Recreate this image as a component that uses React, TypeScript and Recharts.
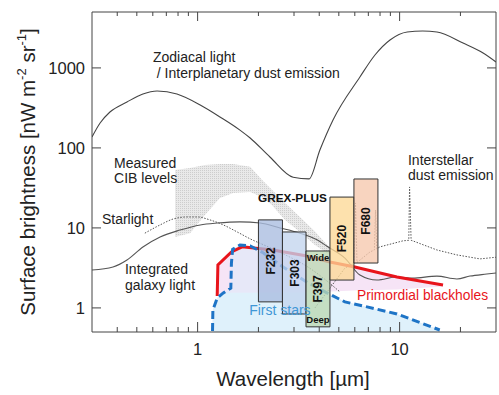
import React from "react";
import {
  ComposedChart,
  Line,
  Area,
  XAxis,
  YAxis,
  ReferenceArea,
  ReferenceDot,
} from "recharts";

const FONT = "'Liberation Sans', Arial, sans-serif";

// wavelength [um] vs surface brightness [nW m^-2 sr^-1]
const zodiLam = [0.3, 0.329, 0.368, 0.447, 0.536, 0.63, 0.79, 1.03, 1.29, 1.62, 1.82, 2.28, 2.97, 3.56, 4.03, 4.68, 6.36, 7.55, 8.96, 10.9, 13.0, 15.3, 20.6, 25.9, 30];
const zodiVal = [137, 205, 281, 375, 472, 514, 472, 344, 244, 167, 133, 77, 43, 41, 94, 223, 770, 1450, 2233, 2812, 2893, 2812, 2048, 1536, 1186];

const iglLam = [0.3, 0.381, 0.447, 0.536, 0.652, 0.818, 1.03, 1.25, 1.62, 2.04, 2.56, 3.21, 3.9, 4.37, 5.36, 6.36, 7.72, 9.7, 11.6, 15.3, 19.2, 22.3, 27, 30];
const iglVal = [2.98, 3.25, 3.97, 5.77, 7.7, 9.4, 10.9, 11.5, 11.9, 11.5, 10, 8.6, 7.1, 5.9, 4.2, 2.58, 2.23, 2.43, 2.36, 2.5, 2.3, 2.5, 2.65, 2.73];

const starLam = [0.548, 0.652, 0.755, 0.885, 1.0, 1.15, 1.34, 1.57, 1.82, 2.2, 2.77, 3.48, 4.18, 5.07];
const starVal = [8.6, 10.9, 12.9, 13.7, 13.7, 12.6, 10.9, 8.9, 7.3, 5.9, 4.5, 3.3, 2.37, 1.58];

const dustLam = [3.81, 4.52, 5.36, 5.95, 6.05, 6.15, 7.13, 7.5, 7.6, 7.7, 8.0, 10.4, 11.1, 11.2, 11.4, 11.6, 15.3, 19.2, 25, 30];
const dustVal = [1.0, 1.77, 3.15, 3.6, 20.5, 3.7, 5.0, 5.3, 16.7, 5.5, 5.8, 6.9, 7.0, 32.5, 7.0, 6.9, 5.3, 4.6, 4.1, 4.3];

const cibLam = [0.773, 0.917, 1.087, 1.29, 1.5, 1.82, 2.08, 2.33, 2.71, 3.21, 3.81, 4.52];
const cibHigh = [53, 56, 61, 63, 63, 58, 40, 30, 20.5, 13.7, 9.0, 5.6];
const cibLow = [7.7, 8.6, 14.5, 23.7, 27.3, 28.1, 24.3, 19.3, 12.6, 8.9, 6.1, 4.6];

const fsLam = [1.185, 1.19, 1.25, 1.34, 1.46, 1.47, 1.49, 1.62, 1.82, 2.11, 2.65, 3.4, 4.37, 5.36, 6.9, 9.7, 15.8];
const fsVal = [0.514, 0.94, 1.33, 1.54, 1.77, 3.64, 5.4, 6.1, 5.96, 4.9, 3.25, 2.17, 1.54, 1.19, 1.03, 0.84, 0.53];
const fsCyan = [0.514, 0.94, 1.33, 1.54, 1.55, 1.55, 1.55, 1.55, 1.55, 1.55, 1.55, 1.55, 1.54, 1.19, 1.03, 0.84, 0.53];

const pbhLam = [1.25, 1.26, 1.47, 1.66, 2.36, 3.48, 4.52, 6.0, 9.7, 16.4];
const pbhVal = [1.41, 3.44, 5.0, 5.8, 5.3, 4.46, 3.75, 3.25, 2.43, 1.93];
const pbhLow = [1.41, 1.45, 1.55, 1.6, 1.6, 1.6, 1.6, 1.65, 1.7, 1.85];

const bandNames = ["F232", "F303", "F397", "F520", "F680"];
const bandLo = [2.0, 2.63, 3.44, 4.52, 5.94];
const bandHi = [2.63, 3.44, 4.52, 5.94, 7.81];
const bandMin = [1.19, 0.84, 0.58, 2.23, 3.64];
const bandMax = [12.6, 8.9, 5.15, 24.3, 40.9];
const bandColors = ["#a9bce0", "#c3d5ee", "#bcd9b4", "#fcd996", "#f6c8ad"];

const xTicks = [0.4, 0.5, 0.6, 0.7, 0.8, 0.9, 1, 2, 3, 4, 5, 6, 7, 8, 9, 10, 20];
const yTicks = [1, 10, 100, 1000];

const notes = [
  { x: 0.601, y: 1186, lines: ["Zodiacal light", " / Interplanetary dust emission"], color: "#222", size: 14, gap: 16 },
  { x: 0.386, y: 56.1, lines: ["Measured", "CIB levels"], color: "#222", size: 14, gap: 15 },
  { x: 0.336, y: 11.2, lines: ["Starlight"], color: "#222", size: 14, gap: 15 },
  { x: 0.437, y: 2.65, lines: ["Integrated", "galaxy light"], color: "#222", size: 14, gap: 16 },
  { x: 11.0, y: 61.1, lines: ["Interstellar", "dust emission"], color: "#222", size: 14, gap: 15 },
  { x: 1.99, y: 21.1, lines: ["GREX-PLUS"], color: "#111", size: 11.8, gap: 0, bold: true },
  { x: 1.8, y: 0.816, lines: ["First stars"], color: "#3f97d6", size: 14, gap: 0 },
  { x: 6.15, y: 1.256, lines: ["Primordial blackholes"], color: "#e8141b", size: 13.8, gap: 0 },
];

const pts = (xs: number[], ys: number[]) => xs.map((x, i) => ({ x, y: ys[i] }));
const rng = (xs: number[], lo: number[], hi: number[]) => xs.map((x, i) => ({ x, r: [lo[i], hi[i]] }));

const AX = "#444";

const BottomTick = (props: any) => {
  const { x, y, payload } = props;
  const major = payload.value === 1 || payload.value === 10;
  return (
    <g>
      <line x1={x} y1={y} x2={x} y2={y - (major ? 10 : 5)} stroke={AX} />
      {major && (
        <text x={x} y={y + 23} textAnchor="middle" fontSize={16.5} fontFamily={FONT} fill="#222">
          {payload.value}
        </text>
      )}
    </g>
  );
};

const TopTick = (props: any) => {
  const { x, y, payload } = props;
  const major = payload.value === 1 || payload.value === 10;
  return <line x1={x} y1={y} x2={x} y2={y + (major ? 9 : 4)} stroke={AX} />;
};

const LeftTick = (props: any) => {
  const { x, y, payload } = props;
  return (
    <g>
      <line x1={x} y1={y} x2={x + 9} y2={y} stroke={AX} />
      <text x={x - 7} y={y + 6} textAnchor="end" fontSize={16.5} fontFamily={FONT} fill="#222">
        {payload.value}
      </text>
    </g>
  );
};

const RightTick = (props: any) => {
  const { x, y } = props;
  return <line x1={x} y1={y} x2={x - 9} y2={y} stroke={AX} />;
};

const BandLabel = (props: any) => {
  const { viewBox, name } = props;
  if (!viewBox) return null;
  const cx = viewBox.x + viewBox.width / 2;
  const cy = viewBox.y + viewBox.height / 2;
  return (
    <g>
      <text
        x={cx}
        y={cy}
        transform={`rotate(-90, ${cx}, ${cy})`}
        textAnchor="middle"
        dy={4.3}
        fontSize={12}
        fontWeight="bold"
        fontFamily={FONT}
        fill="#111"
      >
        {name}
      </text>
      {name === "F397" && (
        <>
          <text x={cx} y={viewBox.y + 10} textAnchor="middle" fontSize={9.5} fontWeight="bold" fontFamily={FONT} fill="#111">
            Wide
          </text>
          <text x={cx} y={viewBox.y + viewBox.height - 4} textAnchor="middle" fontSize={9.5} fontWeight="bold" fontFamily={FONT} fill="#111">
            Deep
          </text>
        </>
      )}
    </g>
  );
};

const NoteLabel = (props: any) => {
  const { viewBox, note } = props;
  if (!viewBox) return null;
  return (
    <text
      x={viewBox.x}
      y={viewBox.y}
      fontSize={note.size}
      fontWeight={note.bold ? "bold" : "normal"}
      fontFamily={FONT}
      fill={note.color}
    >
      {note.lines.map((l: string, i: number) => (
        <tspan key={i} x={viewBox.x} dy={i === 0 ? 0 : note.gap} style={{ whiteSpace: "pre" }}>
          {l}
        </tspan>
      ))}
    </text>
  );
};

const XLabel = () => (
  <text x={293} y={386} textAnchor="middle" fontSize={20.5} fontFamily={FONT} fill="#222">
    Wavelength [µm]
  </text>
);

const YLabel = () => (
  <text transform="rotate(-90)" x={-172} y={35} textAnchor="middle" fontSize={20.5} fontFamily={FONT} fill="#222">
    Surface brightness [nW m
    <tspan fontSize={13} dy={-9}>-2</tspan>
    <tspan dy={9}> sr</tspan>
    <tspan fontSize={13} dy={-9}>-1</tspan>
    <tspan dy={9}>]</tspan>
  </text>
);

export default function App() {
  return (
    <div style={{ width: 499, height: 395, background: "#fff" }}>
      <style>{`body{margin:0;background:#fff}`}</style>
      <ComposedChart width={499} height={395} margin={{ top: 11, right: 2, bottom: 62, left: 91 }}>
        <defs>
          <pattern id="cibDots" width={2} height={2} patternUnits="userSpaceOnUse">
            <rect width={2} height={2} fill="#e9e9e9" />
            <rect width={1} height={1} fill="#cdcdcd" />
          </pattern>
        </defs>
        <XAxis
          dataKey="x"
          type="number"
          scale="log"
          domain={[0.3, 30]}
          allowDataOverflow
          ticks={xTicks}
          interval={0}
          height={1}
          tickSize={0}
          tickMargin={0}
          tick={<BottomTick />}
          tickLine={false}
          axisLine={{ stroke: AX }}
          label={{ content: XLabel }}
        />
        <XAxis
          xAxisId="top"
          orientation="top"
          dataKey="x"
          type="number"
          scale="log"
          domain={[0.3, 30]}
          allowDataOverflow
          ticks={xTicks}
          interval={0}
          height={1}
          tickSize={0}
          tickMargin={0}
          tick={<TopTick />}
          tickLine={false}
          axisLine={{ stroke: AX }}
        />
        <YAxis
          type="number"
          scale="log"
          domain={[0.5, 5000]}
          allowDataOverflow
          ticks={yTicks}
          interval={0}
          width={1}
          tickSize={0}
          tickMargin={0}
          tick={<LeftTick />}
          tickLine={false}
          axisLine={{ stroke: AX }}
          label={{ content: YLabel }}
        />
        <YAxis
          yAxisId="right"
          orientation="right"
          type="number"
          scale="log"
          domain={[0.5, 5000]}
          allowDataOverflow
          ticks={yTicks}
          interval={0}
          width={1}
          tickSize={0}
          tickMargin={0}
          tick={<RightTick />}
          tickLine={false}
          axisLine={{ stroke: AX }}
        />

        <Area data={rng(cibLam, cibLow, cibHigh)} dataKey="r" type="linear" stroke="none" fill="url(#cibDots)" fillOpacity={1} isAnimationActive={false} />
        <Area data={rng(pbhLam, pbhLow, pbhVal)} dataKey="r" type="linear" stroke="none" fill="#f6e4f6" fillOpacity={1} isAnimationActive={false} />
        <Area data={rng(fsLam, fsVal.map(() => 0.5), fsVal)} dataKey="r" type="linear" stroke="none" fill="#e7e8f8" fillOpacity={1} isAnimationActive={false} />
        <Area data={rng(fsLam, fsCyan.map(() => 0.5), fsCyan)} dataKey="r" type="linear" stroke="none" fill="#dff1fb" fillOpacity={1} isAnimationActive={false} />

        <Line data={pts(iglLam, iglVal)} dataKey="y" type="monotone" stroke="#555" strokeWidth={1.1} dot={false} activeDot={false} isAnimationActive={false} />
        <Line data={pts(zodiLam, zodiVal)} dataKey="y" type="monotone" stroke="#444" strokeWidth={1.1} dot={false} activeDot={false} isAnimationActive={false} />
        <Line data={pts(starLam, starVal)} dataKey="y" type="monotone" stroke="#555" strokeWidth={1} strokeDasharray="1.5 1.5" dot={false} activeDot={false} isAnimationActive={false} />
        <Line data={pts(dustLam, dustVal)} dataKey="y" type="linear" stroke="#555" strokeWidth={1} strokeDasharray="1.5 1.5" dot={false} activeDot={false} isAnimationActive={false} />
        <Line data={pts(pbhLam, pbhVal)} dataKey="y" type="linear" stroke="#e8141b" strokeWidth={3} dot={false} activeDot={false} isAnimationActive={false} />
        <Line data={pts(fsLam, fsVal)} dataKey="y" type="linear" stroke="#1e74c6" strokeWidth={3} strokeDasharray="8 4" dot={false} activeDot={false} isAnimationActive={false} />

        {notes.map((n, i) => (
          <ReferenceDot key={`note-${i}`} x={n.x} y={n.y} r={0} fill="none" stroke="none" label={(p: any) => <NoteLabel {...p} note={n} />} />
        ))}

        {bandNames.map((name, i) => (
          <ReferenceArea
            key={name}
            x1={bandLo[i]}
            x2={bandHi[i]}
            y1={bandMin[i]}
            y2={bandMax[i]}
            fill={bandColors[i]}
            fillOpacity={0.78}
            stroke="#333"
            strokeWidth={1}
            strokeOpacity={1}
            zIndex={450}
            label={(p: any) => <BandLabel {...p} name={name} />}
          />
        ))}
      </ComposedChart>
    </div>
  );
}
